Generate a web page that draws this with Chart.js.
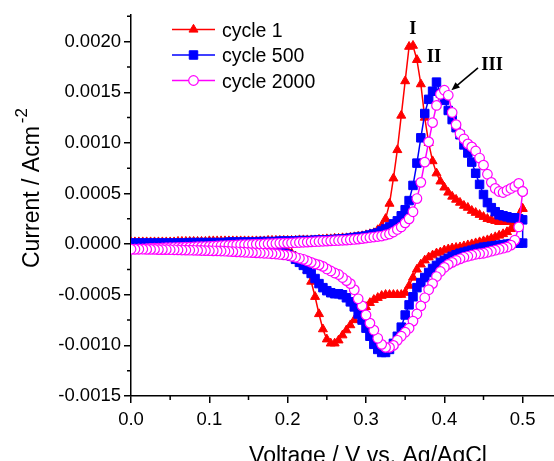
<!DOCTYPE html>
<html>
<head>
<meta charset="utf-8">
<script src="https://cdn.jsdelivr.net/npm/chart.js@4.4.0/dist/chart.umd.min.js"></script>
<style>
  html, body { margin: 0; padding: 0; background: #fff; }
</style>
</head>
<body>
<canvas id="cv" width="554" height="461"></canvas>
<script>
// sweep potential (V vs. Ag/AgCl), same grid used for both sweep directions
const voltages = [
  0.000, 0.005, 0.010, 0.015, 0.020, 0.025, 0.030, 0.035, 0.040, 0.045,
  0.050, 0.055, 0.060, 0.065, 0.070, 0.075, 0.080, 0.085, 0.090, 0.095,
  0.100, 0.105, 0.110, 0.115, 0.120, 0.125, 0.130, 0.135, 0.140, 0.145,
  0.150, 0.155, 0.160, 0.165, 0.170, 0.175, 0.180, 0.185, 0.190, 0.195,
  0.200, 0.205, 0.210, 0.215, 0.220, 0.225, 0.230, 0.235, 0.240, 0.245,
  0.250, 0.255, 0.260, 0.265, 0.270, 0.275, 0.280, 0.285, 0.290, 0.295,
  0.300, 0.305, 0.310, 0.315, 0.320, 0.325, 0.330, 0.335, 0.340, 0.345,
  0.350, 0.355, 0.360, 0.365, 0.370, 0.375, 0.380, 0.385, 0.390, 0.395,
  0.400, 0.405, 0.410, 0.415, 0.420, 0.425, 0.430, 0.435, 0.440, 0.445,
  0.450, 0.455, 0.460, 0.465, 0.470, 0.475, 0.480, 0.485, 0.490, 0.495,
  0.500
];

// current density, in units of 1e-4 A/cm2
// "Fwd" = anodic sweep 0 -> 0.5 V, "Rev" = cathodic sweep (listed by the voltage grid above)
const cycle1Fwd = [
  0.2, 0.2, 0.2, 0.2, 0.2, 0.2, 0.2, 0.2, 0.2, 0.2,
  0.2, 0.2, 0.25, 0.25, 0.25, 0.25, 0.25, 0.25, 0.25, 0.25,
  0.3, 0.3, 0.3, 0.3, 0.3, 0.3, 0.3, 0.3, 0.3, 0.3,
  0.3, 0.3, 0.3, 0.3, 0.3, 0.35, 0.35, 0.35, 0.35, 0.35,
  0.35, 0.35, 0.35, 0.4, 0.4, 0.4, 0.4, 0.4, 0.45, 0.45,
  0.5, 0.5, 0.55, 0.55, 0.6, 0.6, 0.65, 0.7, 0.75, 0.8,
  0.9, 1.0, 1.1, 1.4, 1.8, 2.5, 4.0, 6.5, 9.3, 12.7,
  16.1, 19.5, 19.6, 18.2, 15.8, 12.5, 10.0, 8.2, 7.0, 6.2,
  5.6, 5.1, 4.7, 4.4, 4.1, 3.8, 3.6, 3.3, 3.1, 2.9,
  2.7, 2.5, 2.4, 2.3, 2.2, 2.2, 2.2, 2.3, 2.5, 2.8,
  3.5
];
const cycle1Rev = [
  0.0, 0.0, 0.0, 0.0, 0.0, 0.0, 0.0, 0.0, 0.0, 0.0,
  0.0, 0.0, 0.0, 0.0, 0.0, -0.05, -0.05, -0.05, -0.05, -0.05,
  -0.1, -0.1, -0.1, -0.1, -0.1, -0.1, -0.1, -0.1, -0.1, -0.1,
  -0.15, -0.15, -0.2, -0.2, -0.25, -0.3, -0.35, -0.4, -0.45, -0.55,
  -0.7, -0.9, -1.2, -1.5, -1.9, -2.6, -3.7, -5.2, -6.9, -8.4,
  -9.4, -9.8, -9.8, -9.5, -9.0, -8.5, -8.0, -7.5, -7.0, -6.6,
  -6.2, -5.8, -5.5, -5.3, -5.1, -5.0, -5.0, -5.0, -5.0, -5.0,
  -4.8, -4.1, -3.3, -2.5, -2.0, -1.6, -1.3, -1.1, -0.9, -0.8,
  -0.6, -0.5, -0.4, -0.35, -0.3, -0.2, -0.1, 0.0, 0.1, 0.2,
  0.3, 0.4, 0.55, 0.7, 0.85, 1.0, 1.2, 1.5, 1.9, 2.6,
  3.5
];
const cycle500Fwd = [
  0.1, 0.1, 0.1, 0.1, 0.1, 0.1, 0.1, 0.1, 0.1, 0.1,
  0.1, 0.1, 0.1, 0.1, 0.1, 0.15, 0.15, 0.15, 0.15, 0.15,
  0.15, 0.15, 0.15, 0.15, 0.15, 0.2, 0.2, 0.2, 0.2, 0.2,
  0.2, 0.2, 0.2, 0.25, 0.25, 0.25, 0.25, 0.25, 0.3, 0.3,
  0.3, 0.3, 0.3, 0.35, 0.35, 0.35, 0.35, 0.4, 0.4, 0.4,
  0.4, 0.45, 0.45, 0.5, 0.5, 0.55, 0.6, 0.65, 0.7, 0.75,
  0.8, 0.9, 1.0, 1.1, 1.3, 1.5, 1.7, 2.0, 2.3, 2.8,
  3.4, 4.3, 5.8, 8.0, 10.5, 12.9, 14.3, 15.1, 16.0, 14.9,
  14.2, 13.2, 12.3, 11.5, 10.8, 9.8, 9.0, 8.1, 7.0, 5.9,
  4.9, 4.1, 3.6, 3.2, 2.9, 2.8, 2.7, 2.6, 2.6, 2.5,
  2.4
];
const cycle500Rev = [
  0.0, 0.0, 0.0, 0.0, 0.0, 0.0, 0.0, -0.05, -0.05, -0.05,
  -0.05, -0.05, -0.05, -0.05, -0.05, -0.1, -0.1, -0.1, -0.1, -0.1,
  -0.1, -0.1, -0.15, -0.15, -0.15, -0.2, -0.2, -0.2, -0.25, -0.25,
  -0.3, -0.3, -0.35, -0.4, -0.45, -0.5, -0.6, -0.7, -0.8, -0.9,
  -1.0, -1.2, -1.5, -1.8, -2.1, -2.5, -2.9, -3.4, -3.9, -4.3,
  -4.6, -4.8, -4.9, -4.9, -5.0, -5.3, -5.7, -6.2, -6.9, -7.5,
  -8.3, -9.1, -9.9, -10.4, -10.7, -10.7, -10.4, -9.8, -9.1, -8.2,
  -7.0, -6.0, -5.2, -4.3, -3.8, -3.3, -2.8, -2.4, -2.1, -1.8,
  -1.6, -1.4, -1.2, -1.05, -0.9, -0.8, -0.7, -0.6, -0.5, -0.4,
  -0.3, -0.25, -0.2, -0.15, -0.1, -0.05, 0.0, 0.05, 0.1, 0.1,
  0.1
];
const cycle2000Fwd = [
  -0.5, -0.5, -0.48, -0.46, -0.44, -0.42, -0.4, -0.4, -0.38, -0.36,
  -0.35, -0.34, -0.33, -0.32, -0.3, -0.3, -0.28, -0.26, -0.25, -0.24,
  -0.22, -0.2, -0.18, -0.16, -0.14, -0.12, -0.1, -0.08, -0.06, -0.05,
  -0.04, -0.02, 0.0, 0.0, 0.02, 0.04, 0.05, 0.06, 0.08, 0.1,
  0.1, 0.12, 0.14, 0.16, 0.18, 0.2, 0.22, 0.24, 0.26, 0.28,
  0.3, 0.32, 0.34, 0.36, 0.38, 0.4, 0.43, 0.46, 0.5, 0.55,
  0.6, 0.65, 0.7, 0.75, 0.8, 0.9, 1.0, 1.2, 1.45, 1.7,
  2.1, 2.5, 3.2, 4.5, 6.1, 8.1, 10.1, 12.0, 13.7, 14.8,
  15.2, 14.7, 13.0, 11.8, 10.9, 10.4, 9.9, 9.6, 9.2, 8.5,
  7.8, 6.9, 6.1, 5.5, 5.2, 5.1, 5.3, 5.5, 5.7, 6.0,
  5.2
];
const cycle2000Rev = [
  -0.5, -0.5, -0.5, -0.5, -0.52, -0.52, -0.52, -0.54, -0.54, -0.54,
  -0.55, -0.56, -0.57, -0.58, -0.59, -0.6, -0.61, -0.62, -0.63, -0.64,
  -0.65, -0.66, -0.67, -0.68, -0.7, -0.72, -0.74, -0.76, -0.78, -0.8,
  -0.82, -0.84, -0.86, -0.88, -0.9, -0.92, -0.95, -0.98, -1.02, -1.06,
  -1.1, -1.2, -1.3, -1.4, -1.5, -1.65, -1.8, -1.95, -2.05, -2.2,
  -2.45, -2.65, -2.85, -3.0, -3.3, -3.6, -3.9, -4.5, -5.4, -6.1,
  -7.0, -7.8, -8.5, -9.3, -9.9, -10.2, -10.2, -10.0, -9.5, -9.1,
  -8.7, -8.3, -7.6, -6.9, -6.1, -5.3, -4.5, -3.9, -3.2, -2.7,
  -2.3, -2.0, -1.8, -1.6, -1.45, -1.3, -1.2, -1.1, -1.0, -0.95,
  -0.9, -0.8, -0.7, -0.6, -0.5, -0.4, -0.3, -0.1, 0.4, 1.7,
  5.2
];

const seriesNames = ['cycle 1', 'cycle 500', 'cycle 2000'];
const xTicks = [0.0, 0.1, 0.2, 0.3, 0.4, 0.5];
const yTicks = [-15, -10, -5, 0, 5, 10, 15, 20]; // x1e-4 A/cm2

// peak labels and the arrow pointing at peak III, in data units
const peakLabels = [
  { text: 'I', x: 0.3597, y: 21.2 },
  { text: 'II', x: 0.3867, y: 18.5 },
  { text: 'III', x: 0.461, y: 17.7 }
];
const arrowFrom = { x: 0.443, y: 17.4 };
const arrowTo = { x: 0.409, y: 15.2 };

const SANS = '"Liberation Sans", Arial, sans-serif';
const SERIF = '"Liberation Serif", "Times New Roman", serif';

function cvLoop(fwd, rev) {
  const pts = voltages.map((v, i) => ({ x: v, y: fwd[i] }));
  for (let i = voltages.length - 1; i >= 0; i--) {
    pts.push({ x: voltages[i], y: rev[i] });
  }
  return pts;
}

function drawMarker(ctx, style, x, y, ds) {
  const r = ds.pointRadius;
  ctx.save();
  ctx.fillStyle = ds.pointBackgroundColor;
  ctx.strokeStyle = ds.pointBorderColor;
  ctx.lineWidth = ds.pointBorderWidth;
  ctx.beginPath();
  if (style === 'triangle') {
    ctx.moveTo(x, y - r);
    ctx.lineTo(x + r * Math.sin(2 * Math.PI / 3), y - r * Math.cos(2 * Math.PI / 3));
    ctx.lineTo(x + r * Math.sin(4 * Math.PI / 3), y - r * Math.cos(4 * Math.PI / 3));
    ctx.closePath();
  } else if (style === 'rect') {
    const s = r * Math.SQRT1_2;
    ctx.rect(x - s, y - s, 2 * s, 2 * s);
  } else {
    ctx.arc(x, y, r, 0, Math.PI * 2);
  }
  ctx.fill();
  ctx.stroke();
  ctx.restore();
}

const extrasPlugin = {
  id: 'extras',
  afterDraw(chart) {
    const ctx = chart.ctx;
    const xs = chart.scales.x;
    const ys = chart.scales.y;
    const area = chart.chartArea;

    // minor ticks
    ctx.save();
    ctx.strokeStyle = '#000';
    ctx.lineWidth = 1.5;
    ctx.beginPath();
    for (let i = 0; i < xTicks.length; i++) {
      const v = xTicks[i] + 0.05;
      if (v > xs.max) break;
      const px = xs.getPixelForValue(v);
      ctx.moveTo(px, area.bottom);
      ctx.lineTo(px, area.bottom + 4);
    }
    for (let i = 0; i < yTicks.length; i++) {
      const v = yTicks[i] + 2.5;
      if (v > ys.max) break;
      const py = ys.getPixelForValue(v);
      ctx.moveTo(area.left - 4, py);
      ctx.lineTo(area.left, py);
    }
    ctx.stroke();
    ctx.restore();

    // axis titles
    ctx.save();
    ctx.fillStyle = '#000';
    ctx.font = '23px ' + SANS;
    ctx.textAlign = 'center';
    ctx.textBaseline = 'alphabetic';
    ctx.fillText('Voltage / V vs. Ag/AgCl', 368, 463);
    ctx.restore();

    ctx.save();
    ctx.fillStyle = '#000';
    ctx.translate(39, 268);
    ctx.rotate(-Math.PI / 2);
    ctx.font = '23px ' + SANS;
    ctx.textAlign = 'left';
    ctx.textBaseline = 'alphabetic';
    const main = 'Current / Acm';
    ctx.fillText(main, 0, 0);
    const w = ctx.measureText(main).width;
    ctx.font = '17px ' + SANS;
    ctx.fillText('-2', w + 3, -12.5);
    ctx.restore();

    // legend
    const styles = ['triangle', 'rect', 'circle'];
    chart.data.datasets.forEach((ds, i) => {
      const rowY = 29.5 + i * 25.5;
      ctx.save();
      ctx.strokeStyle = ds.borderColor;
      ctx.lineWidth = ds.borderWidth;
      ctx.beginPath();
      ctx.moveTo(172, rowY);
      ctx.lineTo(215, rowY);
      ctx.stroke();
      ctx.restore();
      drawMarker(ctx, styles[i], 193.5, rowY, ds);
      ctx.save();
      ctx.fillStyle = '#000';
      ctx.font = '19.5px ' + SANS;
      ctx.textAlign = 'left';
      ctx.textBaseline = 'alphabetic';
      ctx.fillText(seriesNames[i], 222, rowY + 7);
      ctx.restore();
    });

    // peak labels
    ctx.save();
    ctx.fillStyle = '#000';
    ctx.font = 'bold 18.5px ' + SERIF;
    ctx.textAlign = 'center';
    ctx.textBaseline = 'middle';
    peakLabels.forEach(p => {
      ctx.fillText(p.text, xs.getPixelForValue(p.x), ys.getPixelForValue(p.y));
    });
    ctx.restore();

    // arrow to peak III
    const x1 = xs.getPixelForValue(arrowFrom.x), y1 = ys.getPixelForValue(arrowFrom.y);
    const x2 = xs.getPixelForValue(arrowTo.x), y2 = ys.getPixelForValue(arrowTo.y);
    const ang = Math.atan2(y2 - y1, x2 - x1);
    ctx.save();
    ctx.strokeStyle = '#000';
    ctx.fillStyle = '#000';
    ctx.lineWidth = 1.6;
    ctx.beginPath();
    ctx.moveTo(x1, y1);
    ctx.lineTo(x2 - Math.cos(ang) * 6, y2 - Math.sin(ang) * 6);
    ctx.stroke();
    ctx.beginPath();
    ctx.moveTo(x2, y2);
    ctx.lineTo(x2 - Math.cos(ang - 0.4) * 9, y2 - Math.sin(ang - 0.4) * 9);
    ctx.lineTo(x2 - Math.cos(ang + 0.4) * 9, y2 - Math.sin(ang + 0.4) * 9);
    ctx.closePath();
    ctx.fill();
    ctx.restore();
  }
};

const ctx = document.getElementById('cv').getContext('2d');
const chart = new Chart(ctx, {
  type: 'scatter',
  data: {
    datasets: [
      {
        label: seriesNames[0],
        data: cvLoop(cycle1Fwd, cycle1Rev),
        showLine: true,
        borderColor: '#ff0000',
        borderWidth: 1.5,
        pointStyle: 'triangle',
        pointRadius: 5.2,
        pointBackgroundColor: '#ff0000',
        pointBorderColor: '#ff0000',
        pointBorderWidth: 1,
        order: 3
      },
      {
        label: seriesNames[1],
        data: cvLoop(cycle500Fwd, cycle500Rev),
        showLine: true,
        borderColor: '#0000ff',
        borderWidth: 1.5,
        pointStyle: 'rect',
        pointRadius: 6,
        pointBackgroundColor: '#0000ff',
        pointBorderColor: '#0000ff',
        pointBorderWidth: 1,
        order: 2
      },
      {
        label: seriesNames[2],
        data: cvLoop(cycle2000Fwd, cycle2000Rev),
        showLine: true,
        borderColor: '#ff00ff',
        borderWidth: 1.5,
        pointStyle: 'circle',
        pointRadius: 4.8,
        pointBackgroundColor: '#ffffff',
        pointBorderColor: '#ff00ff',
        pointBorderWidth: 1.2,
        order: 1
      }
    ]
  },
  options: {
    responsive: false,
    animation: false,
    devicePixelRatio: 1,
    layout: { autoPadding: false, padding: { top: 15, left: 0, right: 0, bottom: 0 } },
    plugins: {
      legend: { display: false },
      tooltip: { enabled: false }
    },
    scales: {
      x: {
        type: 'linear',
        min: 0,
        max: 0.54,
        border: { display: true, color: '#000', width: 1.5 },
        grid: { display: true, drawOnChartArea: false, drawTicks: true, tickLength: 7, color: '#000', lineWidth: 1.5 },
        ticks: {
          stepSize: 0.1,
          includeBounds: false,
          color: '#000',
          padding: 6,
          maxRotation: 0,
          font: { family: SANS, size: 18.5 },
          callback: v => v.toFixed(1)
        },
        afterFit(s) {
          s.height = 65;
          s.paddingLeft = 0;
          s.paddingRight = 0;
        }
      },
      y: {
        type: 'linear',
        min: -15,
        max: 22.63,
        border: { display: true, color: '#000', width: 1.5 },
        grid: { display: true, drawOnChartArea: false, drawTicks: true, tickLength: 7, color: '#000', lineWidth: 1.5 },
        ticks: {
          stepSize: 5,
          includeBounds: false,
          color: '#000',
          padding: 3,
          font: { family: SANS, size: 18.5 },
          callback: v => (v / 10000).toFixed(4)
        },
        afterFit(s) {
          s.width = 131;
          s.paddingTop = 0;
          s.paddingBottom = 0;
        }
      }
    }
  },
  plugins: [extrasPlugin]
});
</script>
</body>
</html>
